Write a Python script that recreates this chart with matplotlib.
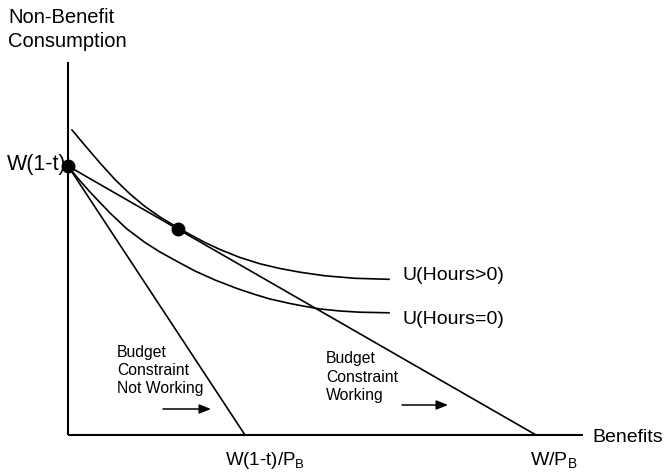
import matplotlib
matplotlib.use("Agg")
import matplotlib.pyplot as plt

plt.rcParams['font.family'] = ['Liberation Sans', 'DejaVu Sans']
plt.rcParams['mathtext.fontset'] = 'custom'
plt.rcParams['mathtext.rm'] = 'Liberation Sans'
plt.rcParams['mathtext.it'] = 'Liberation Sans'

# ---- data (diagram units) ----
w_net = 269                # W(1-t): non-benefit consumption intercept
notwork_x_intercept = 177  # W(1-t)/P_B
work_x_intercept = 468     # W/P_B
axis_x_max = 515
axis_y_max = 373

# indifference curve U(Hours>0)
u_pos_x = [4, 17, 32, 47, 62, 77, 92, 107, 122, 137, 152, 172, 192, 212, 232, 257, 287, 321]
u_pos_y = [305, 289.5, 272, 255.5, 241, 228.5, 218, 209, 200.5, 192.5, 185.5, 177.5,
           171.2, 166.5, 162.8, 159.2, 156.7, 155.7]

# indifference curve U(Hours=0)
u_zero_x = [0, 10, 22, 42, 59, 77, 92, 112, 127, 147, 169, 187, 202, 222, 235, 252, 272, 292, 321]
u_zero_y = [269, 256.5, 243, 222, 206, 192.5, 183, 172, 164, 155, 146.5, 140.5,
            136, 131.5, 129, 126, 124, 122.8, 122.2]

# points
corner_pt = (0, 269)
tangent_pt = (110, 206)

fig = plt.figure(figsize=(6.65, 4.74), dpi=100)
ax = fig.add_axes([0, 0, 1, 1])
ax.set_xlim(-68, 597)
ax.set_ylim(-39, 435)
ax.axis('off')

lw = 1.2
# axes
ax.plot([0, 0], [0, axis_y_max], color='black', lw=1.5, solid_capstyle='butt')
ax.plot([0, axis_x_max], [0, 0], color='black', lw=1.5, solid_capstyle='butt')

# budget constraints
ax.plot([0, notwork_x_intercept], [w_net, 0], color='black', lw=lw)
ax.plot([0, work_x_intercept], [w_net, 0], color='black', lw=lw)

# indifference curves
ax.plot(u_pos_x, u_pos_y, color='black', lw=lw, solid_joinstyle='round')
ax.plot(u_zero_x, u_zero_y, color='black', lw=lw, solid_joinstyle='round')

# points
ax.plot(*corner_pt, 'o', color='black', ms=9, zorder=5)
ax.plot(*tangent_pt, 'o', color='black', ms=9, zorder=5)

# labels
ax.text(-60, 412, 'Non-Benefit', fontsize=14.5, ha='left', va='baseline')
ax.text(-60, 388, 'Consumption', fontsize=14.5, ha='left', va='baseline')
ax.text(-61, 265.5, 'W(1-t)', fontsize=15.5, ha='left', va='baseline')
ax.text(334, 155.5, 'U(Hours>0)', fontsize=14, ha='left', va='baseline')
ax.text(334, 110.5, 'U(Hours=0)', fontsize=14, ha='left', va='baseline')
ax.text(524, -7.5, 'Benefits', fontsize=14, ha='left', va='baseline')
ax.text(157, -30, r'W(1-t)/P$_\mathregular{B}$', fontsize=13.5, ha='left', va='baseline')
ax.text(462, -30, r'W/P$_\mathregular{B}$', fontsize=14, ha='left', va='baseline')

for y, s in zip([78.5, 60, 41.7], ['Budget', 'Constraint', 'Not Working']):
    ax.text(49, y, s, fontsize=11.3, ha='left', va='baseline')
for y, s in zip([71.7, 53.3, 35], ['Budget', 'Constraint', 'Working']):
    ax.text(258, y, s, fontsize=11.3, ha='left', va='baseline')

arrow = dict(arrowstyle='-|>,head_length=0.5,head_width=0.2', mutation_scale=14,
             color='black', lw=1.1, shrinkA=0, shrinkB=0)
ax.annotate('', xy=(143, 26), xytext=(95, 26), arrowprops=arrow)
ax.annotate('', xy=(380, 30), xytext=(334, 30), arrowprops=arrow)

fig.savefig('out.png', dpi=100)
